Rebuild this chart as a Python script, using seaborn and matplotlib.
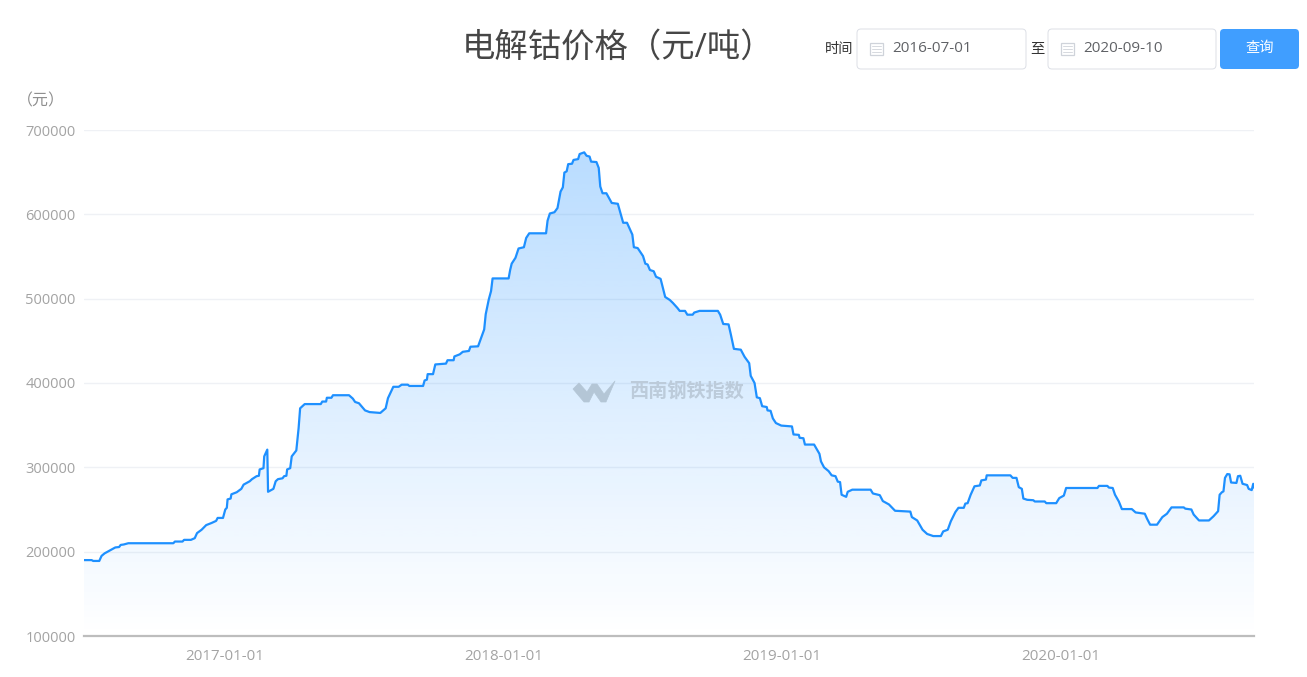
import numpy as np
import pandas as pd
import matplotlib
matplotlib.use("Agg")
import matplotlib.pyplot as plt
import matplotlib.dates as mdates
from matplotlib.patches import FancyBboxPatch, Rectangle, Polygon
import seaborn as sns

# ---------- Data ----------
START_DATE = "2016-07-01"
END_DATE = "2020-09-10"

# days since START_DATE
day_offset = [
    0, 10, 12, 20, 23, 27, 32, 38, 41, 46, 48, 52, 58, 117, 119, 129, 131, 140, 145, 148,
    154, 160, 167, 173, 175, 182, 185, 187, 188, 192, 193, 200, 206, 209, 217, 220, 226, 229,
    230, 235, 236, 240, 241, 248, 251, 254, 260, 262, 265, 266, 270, 272, 278, 281, 283, 289,
    310, 312, 317, 318, 324, 326, 347, 352, 355, 360, 368, 374, 388, 395, 398, 405, 412, 416,
    424, 426, 444, 446, 449, 450, 457, 460, 474, 476, 484, 485, 492, 496, 504, 506, 516, 520,
    524, 526, 530, 533, 535, 556, 558, 560, 565, 569, 576, 579, 583, 605, 607, 610, 616, 620,
    624, 627, 629, 632, 634, 639, 641, 647, 649, 655, 658, 662, 664, 671, 674, 676, 679, 684,
    691, 699, 703, 706, 711, 718, 720, 725, 732, 735, 738, 741, 746, 749, 755, 761, 767, 771,
    777, 780, 787, 790, 797, 799, 806, 830, 833, 837, 844, 847, 851, 860, 865, 871, 873, 878,
    881, 885, 888, 894, 895, 899, 902, 906, 913, 927, 929, 936, 937, 942, 944, 956, 963, 965,
    969, 975, 979, 984, 987, 990, 992, 998, 1000, 1006, 1030, 1033, 1042, 1046, 1054, 1062,
    1082, 1084, 1091, 1098, 1104, 1112, 1122, 1125, 1131, 1135, 1141, 1145, 1152, 1154, 1157,
    1161, 1166, 1173, 1175, 1181, 1182, 1213, 1216, 1221, 1224, 1228, 1230, 1235, 1243, 1245,
    1258, 1260, 1273, 1277, 1283, 1286, 1327, 1329, 1340, 1342, 1347, 1350, 1355, 1359, 1372,
    1377, 1389, 1392, 1396, 1405, 1412, 1418, 1424, 1440, 1442, 1450, 1453, 1460, 1473, 1479,
    1485, 1487, 1490, 1492, 1494, 1497, 1500, 1502, 1509, 1511, 1514, 1517, 1523, 1525, 1529,
    1531, 1532,
]

# yuan per ton
price = [
    190000, 190000, 189000, 189000, 195000, 198000, 200500, 203500, 205000, 205500, 208000, 208500, 210000, 210000, 212000, 212000, 214000, 214000, 216000, 222000,
    226000, 231500, 234000, 236500, 240000, 240000, 250000, 252000, 262000, 263000, 268000, 270500, 274500, 279500, 283500, 286000, 289500, 290000,
    297500, 299000, 313000, 321000, 271000, 274500, 283500, 286000, 287000, 289500, 290000, 297500, 299000, 313000, 320000, 346400, 370000, 375000,
    375000, 378000, 378000, 382500, 382500, 385500, 385500, 381500, 377500, 376000, 367500, 365500, 364500, 370000, 382000, 395500, 395500, 398000,
    398000, 396500, 396500, 403000, 404000, 410500, 410500, 422000, 423000, 427000, 427000, 431500, 434000, 437000, 438000, 443000, 443500, 453500,
    463500, 481500, 499000, 509000, 524000, 524000, 534000, 541500, 548500, 559500, 561000, 572000, 577500, 577500, 592500, 601000, 602500, 607500,
    627000, 632000, 649500, 651000, 659500, 660000, 664500, 665500, 671500, 673500, 669500, 668500, 662500, 662000, 655000, 633000, 625000, 625000,
    613500, 612500, 599500, 590000, 590000, 576000, 561000, 560000, 550500, 541500, 540500, 534000, 532500, 526000, 523500, 502000, 498500, 495000,
    489000, 485500, 485500, 481000, 481000, 483500, 485500, 485500, 481000, 470000, 469500, 457500, 440500, 439500, 431000, 423500, 408500, 400000,
    383000, 382000, 372500, 371500, 367500, 367000, 358000, 352500, 349500, 348500, 339000, 338500, 335000, 334500, 327000, 327000, 316000, 307000,
    300000, 295500, 290500, 289500, 283000, 282500, 267500, 265000, 271000, 273500, 273500, 269000, 267000, 260000, 256000, 248500,
    247500, 241000, 237000, 226000, 221000, 218500, 218500, 224000, 226000, 236000, 247000, 252000, 252000, 257000, 257500,
    267500, 277500, 278500, 284500, 285500, 290500, 290500, 287500, 287500, 276500, 274500, 263000, 261500, 261000, 259500,
    259500, 257500, 257500, 263500, 266500, 275500, 275500, 278000, 278000, 276000, 275500, 267500, 259500, 250500, 250500,
    246500, 245000, 239000, 232000, 232000, 241000, 245000, 252500, 252500, 251000, 250000, 244000, 237000, 237000, 242000,
    248000, 267500, 270500, 271500, 287500, 292000, 291700, 282000, 281500, 289500, 290000, 280500, 279000, 274500, 273000,
    280500, 276000,
]

y_ticks = [100000, 200000, 300000, 400000, 500000, 600000, 700000]
x_ticks = ["2017-01-01", "2018-01-01", "2019-01-01", "2020-01-01"]
title = "电解钴价格（元/吨）"
unit_label = "（元）"
watermark = "西南钢铁指数"

# ---------- Plot ----------
sns.set_theme(style="white")
plt.rcParams["font.family"] = ["Open Sans", "Noto Sans CJK SC", "DejaVu Sans"]

df = pd.DataFrame({
    "date": pd.Timestamp(START_DATE) + pd.to_timedelta(day_offset, unit="D"),
    "price": price,
})

W, H = 1307, 677
fig = plt.figure(figsize=(W / 100, H / 100), dpi=100, facecolor="white")
ax = fig.add_axes([84 / W, 1 - 636 / H, (1254 - 84) / W, (636 - 130) / H])
ax.set_facecolor("none")

ax.set_xlim(pd.Timestamp(START_DATE), pd.Timestamp(END_DATE))
ax.set_ylim(y_ticks[0], y_ticks[-1])

# gridlines sit under the fill
ax.set_yticks(y_ticks)
ax.grid(axis="y", color="#eff1f5", linewidth=1)
ax.set_axisbelow(True)

# gradient area under the line, same blue fading out to the bottom
poly = ax.fill_between(df["date"], df["price"], y_ticks[0], color="none")
grad = np.zeros((256, 1, 4))
grad[..., 0] = 30 / 255
grad[..., 1] = 144 / 255
grad[..., 2] = 1.0
grad[..., 3] = np.linspace(0.31, 0, 256)[:, None]
x0, x1 = mdates.date2num(pd.Timestamp(START_DATE)), mdates.date2num(pd.Timestamp(END_DATE))
img = ax.imshow(grad, extent=[x0, x1, y_ticks[0], df["price"].max()], aspect="auto",
                origin="upper", zorder=2, interpolation="bilinear")
img.set_clip_path(poly.get_paths()[0], transform=ax.transData)
ax.set_xlim(pd.Timestamp(START_DATE), pd.Timestamp(END_DATE))
ax.set_ylim(y_ticks[0], y_ticks[-1])

sns.lineplot(data=df, x="date", y="price", ax=ax, color="#1e90ff", linewidth=1.6,
             estimator=None, zorder=3)

ax.set_xlabel("")
ax.set_ylabel("")
ax.set_xticks(pd.to_datetime(x_ticks))
ax.set_xticklabels(x_ticks)
ax.tick_params(axis="x", length=0, colors="#a3a3a3", labelsize=10.9, pad=9)
ax.tick_params(axis="y", length=0, colors="#a3a3a3", labelsize=10.5, pad=6)
sns.despine(ax=ax, left=True, right=True, top=True)
ax.spines["bottom"].set_color("#bdbdbd")
ax.spines["bottom"].set_linewidth(1.6)

# ---------- Page furniture, in pixel coordinates ----------
ui = fig.add_axes([0, 0, 1, 1], zorder=5)
ui.set_xlim(0, W)
ui.set_ylim(H, 0)
ui.axis("off")
ui.patch.set_alpha(0)

ui.text(618, 48, title, fontsize=24, color="#464646", ha="center", va="center")
ui.text(41, 101, unit_label, fontsize=11.5, color="#8f8f8f", ha="center", va="center")


def date_box(x, w, label):
    ui.add_patch(FancyBboxPatch((x, 29), w, 40, boxstyle="round,pad=0,rounding_size=4",
                                linewidth=0.7, edgecolor="#dcdfe6", facecolor="white"))
    # calendar icon
    ix, iy = x + 13, 43
    ui.add_patch(Rectangle((ix, iy), 13, 12, fill=False, edgecolor="#cfd3da", linewidth=0.9))
    for yy in (iy + 3, iy + 6, iy + 9):
        ui.plot([ix + 2, ix + 11], [yy, yy], color="#d6d9df", linewidth=0.7)
    ui.text(x + 35, 48.5, label, fontsize=11, color="#606266", ha="left", va="center")


date_box(857, 169, START_DATE)
date_box(1048, 168, END_DATE)
ui.text(839, 49, "时间", fontsize=10.3, color="#333333", ha="center", va="center")
ui.text(1037, 49, "至", fontsize=10.3, color="#333333", ha="center", va="center")
ui.add_patch(FancyBboxPatch((1220, 29), 79, 40, boxstyle="round,pad=0,rounding_size=4",
                            linewidth=0, facecolor="#409eff"))
ui.text(1259.5, 48.5, "查询", fontsize=10.3, color="white", ha="center", va="center")

# watermark logo, tapered W
ui.add_patch(Polygon([(573, 389), (579, 383), (587, 392), (592, 384), (597, 384), (604, 394),
                      (615, 381), (606, 402), (601, 402), (594, 392), (589, 402), (584, 402)],
                     closed=True, facecolor="#b4c6d6", edgecolor="#b4c6d6", linewidth=0.5,
                     joinstyle="round"))
ui.text(686, 393, watermark, fontsize=13.8, color="#bccbda", ha="center", va="center",
        fontweight="bold")

fig.savefig("out.png", dpi=100)
